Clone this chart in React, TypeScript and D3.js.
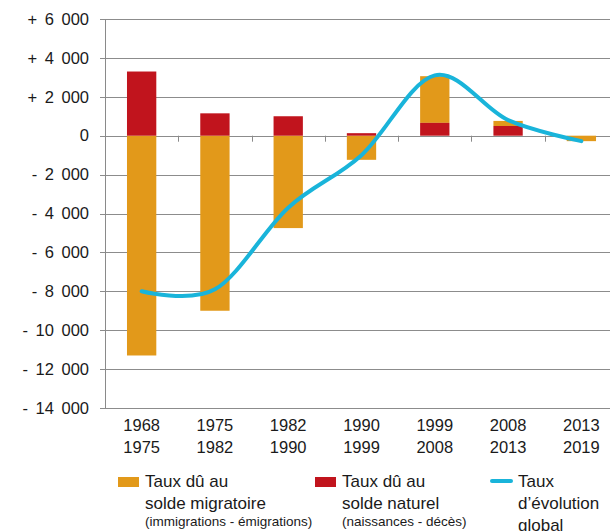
import { useEffect, useRef } from "react";
import * as d3 from "d3";

const periods = ["1968-1975", "1975-1982", "1982-1990", "1990-1999", "1999-2008", "2008-2013", "2013-2019"];
const naturel = [3300, 1150, 1000, 130, 660, 500, 0];
const migratoire = [-11300, -9000, -4750, -1240, 2400, 260, -280];
const global = [-8000, -7900, -3700, -1000, 3100, 800, -280];
const yTicks = [6000, 4000, 2000, 0, -2000, -4000, -6000, -8000, -10000, -12000, -14000];

const ORANGE = "#E2991A";
const RED = "#C1141D";
const BLUE = "#19B4DA";

const fmt = (v: number) => {
  if (v === 0) return "0";
  const s = Math.abs(v).toString().replace(/\B(?=(\d{3})+(?!\d))/g, " ");
  return (v > 0 ? "+ " : "- ") + s;
};

const App = () => {
  const svgRef = useRef<SVGSVGElement>(null);

  useEffect(() => {
    if (!svgRef.current) return;
    const svg = d3.select(svgRef.current);
    svg.selectAll("*").remove();

    const x = d3.scaleBand<string>().domain(periods).range([105, 618]);
    const y = d3.scaleLinear().domain([-14000, 6000]).range([408, 19]);
    const font = "'Liberation Sans', Arial, sans-serif";

    // gridlines
    svg.append("g")
      .selectAll("line")
      .data(yTicks)
      .join("line")
      .attr("x1", 100)
      .attr("x2", 610)
      .attr("y1", (d) => Math.round(y(d)) + 0.5)
      .attr("y2", (d) => Math.round(y(d)) + 0.5)
      .attr("stroke", "#8c8c8c")
      .attr("stroke-width", 1);

    // y axis line
    svg.append("line")
      .attr("x1", 105.5).attr("x2", 105.5)
      .attr("y1", y(6000)).attr("y2", y(-14000))
      .attr("stroke", "#8a8a8a");

    // category ticks on zero line
    svg.append("g")
      .selectAll("line")
      .data(periods.slice(1))
      .join("line")
      .attr("x1", (d) => Math.round(x(d)!) + 0.5)
      .attr("x2", (d) => Math.round(x(d)!) + 0.5)
      .attr("y1", y(0))
      .attr("y2", y(0) + 6)
      .attr("stroke", "#8a8a8a");

    // y labels
    svg.append("g")
      .selectAll("text")
      .data(yTicks)
      .join("text")
      .attr("x", 89)
      .attr("y", (d) => y(d))
      .attr("dy", "0.35em")
      .attr("text-anchor", "end")
      .attr("font-family", font)
      .attr("font-size", 16.5)
      .attr("word-spacing", 3)
      .attr("fill", "#1a1a1a")
      .text(fmt);

    const bw = x.bandwidth() * 0.4;
    const bx = (d: string) => x(d)! + (x.bandwidth() - bw) / 2;

    // migratoire bars
    svg.append("g")
      .selectAll("rect")
      .data(periods)
      .join("rect")
      .attr("x", bx)
      .attr("width", bw)
      .attr("y", (_, i) => {
        const base = migratoire[i] > 0 ? naturel[i] : 0;
        return migratoire[i] > 0 ? y(base + migratoire[i]) : y(0);
      })
      .attr("height", (_, i) => Math.abs(y(migratoire[i]) - y(0)))
      .attr("fill", ORANGE);

    // naturel bars
    svg.append("g")
      .selectAll("rect")
      .data(periods)
      .join("rect")
      .attr("x", bx)
      .attr("width", bw)
      .attr("y", (_, i) => y(Math.max(0, naturel[i])))
      .attr("height", (_, i) => Math.abs(y(naturel[i]) - y(0)))
      .attr("fill", RED);

    // global line
    const line = d3.line<number>()
      .x((_, i) => x(periods[i])! + x.bandwidth() / 2)
      .y((d) => y(d))
      .curve(d3.curveCardinal.tension(0));

    svg.append("path")
      .datum(global)
      .attr("d", line)
      .attr("fill", "none")
      .attr("stroke", BLUE)
      .attr("stroke-width", 4)
      .attr("stroke-linecap", "round");

    // category labels
    const cat = svg.append("g")
      .selectAll("text")
      .data(periods)
      .join("text")
      .attr("text-anchor", "middle")
      .attr("font-family", font)
      .attr("font-size", 16.5)
      .attr("fill", "#1a1a1a");
    cat.append("tspan")
      .attr("x", (d) => x(d)! + x.bandwidth() / 2)
      .attr("y", 431)
      .text((d) => d.split("-")[0]);
    cat.append("tspan")
      .attr("x", (d) => x(d)! + x.bandwidth() / 2)
      .attr("y", 453)
      .text((d) => d.split("-")[1]);

    // legend
    const leg = svg.append("g").attr("font-family", font).attr("fill", "#1a1a1a");
    const items = [
      { kind: "rect", color: ORANGE, x: 118, lines: ["Taux dû au", "solde migratoire"], small: "(immigrations - émigrations)" },
      { kind: "rect", color: RED, x: 315, lines: ["Taux dû au", "solde naturel"], small: "(naissances - décès)" },
      { kind: "line", color: BLUE, x: 490, lines: ["Taux", "d\u2019évolution", "global"], small: "" },
    ];
    items.forEach((it) => {
      if (it.kind === "rect") {
        leg.append("rect").attr("x", it.x).attr("y", 477).attr("width", 21).attr("height", 10).attr("fill", it.color);
      } else {
        leg.append("line")
          .attr("x1", it.x + 2).attr("x2", it.x + 21)
          .attr("y1", 481).attr("y2", 481)
          .attr("stroke", it.color).attr("stroke-width", 4).attr("stroke-linecap", "round");
      }
      const tx = it.x + (it.kind === "rect" ? 27 : 28);
      it.lines.forEach((l, j) => {
        leg.append("text")
          .attr("x", tx)
          .attr("y", 487 + j * 22)
          .attr("font-size", 17)
          .attr("fill", "#1a1a1a")
          .text(l);
      });
      if (it.small) {
        leg.append("text")
          .attr("x", tx)
          .attr("y", 526)
          .attr("font-size", 13.5)
          .attr("fill", "#1a1a1a")
          .text(it.small);
      }
    });
  }, []);

  return (
    <svg
      ref={svgRef}
      width={610}
      height={531}
      style={{ position: "absolute", left: 0, top: 0, background: "#fff" }}
    />
  );
};

export default App;
